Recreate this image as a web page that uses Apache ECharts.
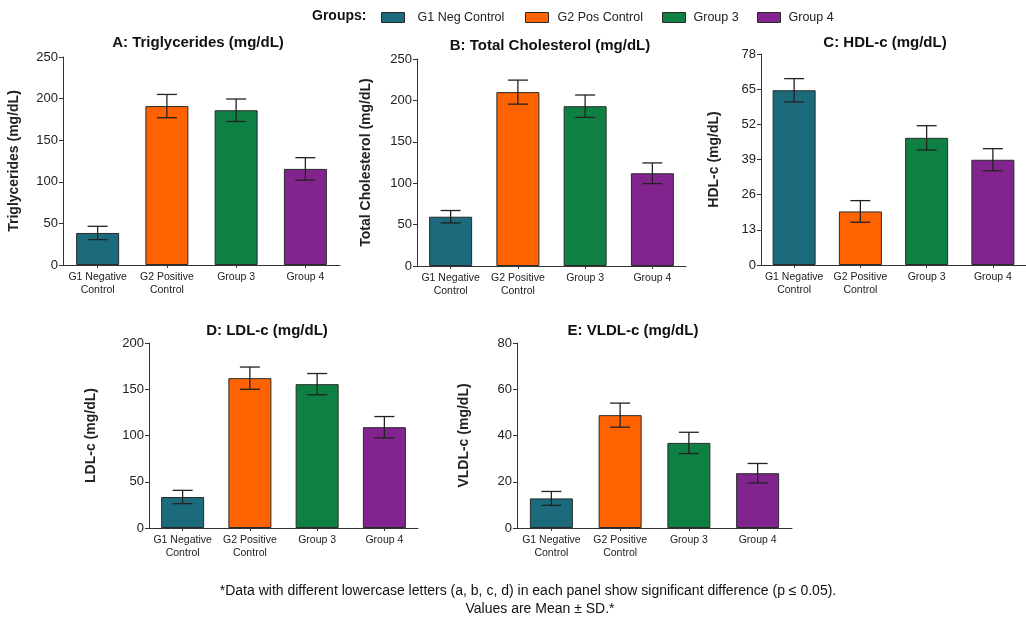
<!DOCTYPE html>
<html>
<head>
<meta charset="utf-8">
<script src="https://cdn.jsdelivr.net/npm/echarts@6/dist/echarts.min.js"></script>
<style>
html,body{margin:0;padding:0;background:#fff;}
#chart{width:1026px;height:620px;}
</style>
</head>
<body>
<div id="chart"></div>
<script>
// ---------- data ----------
const groups = ['G1 Neg Control', 'G2 Pos Control', 'Group 3', 'Group 4'];
const categories = ['G1 Negative\nControl', 'G2 Positive\nControl', 'Group 3', 'Group 4'];
const panelTitles = ['A: Triglycerides (mg/dL)', 'B: Total Cholesterol (mg/dL)', 'C: HDL-c (mg/dL)', 'D: LDL-c (mg/dL)', 'E: VLDL-c (mg/dL)'];
const yNames = ['Triglycerides (mg/dL)', 'Total Cholesterol (mg/dL)', 'HDL-c (mg/dL)', 'LDL-c (mg/dL)', 'VLDL-c (mg/dL)'];
const yMax = [250, 250, 78, 200, 80];
const yInterval = [50, 50, 13, 50, 20];

const trigMean = [38.5, 191, 186, 115.5];
const trigSD = [8, 14, 13.5, 13.5];
const tcMean = [59.5, 210, 193, 112];
const tcSD = [7.5, 14.5, 13.5, 12.5];
const hdlMean = [64.6, 19.8, 47, 38.9];
const hdlSD = [4.3, 4, 4.5, 4.1];
const ldlMean = [33.5, 162, 155.5, 109];
const ldlSD = [7.2, 12, 11.5, 11.5];
const vldlMean = [12.8, 48.8, 36.8, 23.7];
const vldlSD = [3, 5.2, 4.6, 4.2];

const means = [trigMean, tcMean, hdlMean, ldlMean, vldlMean];
const sds = [trigSD, tcSD, hdlSD, ldlSD, vldlSD];

const footnote1 = '*Data with different lowercase letters (a, b, c, d) in each panel show significant difference (p \u2264 0.05).';
const footnote2 = 'Values are Mean \u00b1 SD.*';

// ---------- styles / layout ----------
const colors = ['#1B6B7D', '#FF6200', '#0E8043', '#82248E'];
const FONT = 'Liberation Sans, Arial, sans-serif';
const grids = [
  {left: 63, top: 57, width: 277, height: 208},
  {left: 417, top: 59, width: 269, height: 207},
  {left: 761, top: 54, width: 272, height: 211},
  {left: 149, top: 343, width: 269, height: 185},
  {left: 517, top: 343, width: 275, height: 185}
];
const nameGaps = [42, 44, 40, 51, 46];
const titlePos = [[198, 43], [550, 46], [885, 43], [267, 331], [633, 331]];
const legendLeft = [381, 525, 662, 757];
const legendTextPad = [8, 4, 3, 3];

const chart = echarts.init(document.getElementById('chart'), null, {renderer: 'canvas'});

const xAxis = [], yAxis = [], series = [];
grids.forEach((g, p) => {
  xAxis.push({
    type: 'category', gridIndex: p, data: categories,
    axisLine: {lineStyle: {color: '#333', width: 1}},
    axisTick: {show: true, alignWithLabel: true, length: 3, lineStyle: {color: '#333'}},
    axisLabel: {color: '#222', fontSize: 10.5, fontFamily: FONT, lineHeight: 12.5, margin: 6, interval: 0}
  });
  yAxis.push({
    type: 'value', gridIndex: p, min: 0, max: yMax[p], interval: yInterval[p],
    name: yNames[p], nameLocation: 'middle', nameRotate: 90, nameGap: nameGaps[p],
    nameTextStyle: {fontSize: 14, fontWeight: 'bold', color: '#222', fontFamily: FONT},
    axisLine: {show: true, lineStyle: {color: '#333', width: 1}},
    axisTick: {show: true, length: 4, lineStyle: {color: '#333'}},
    splitLine: {show: false},
    axisLabel: {color: '#222', fontSize: 13, fontFamily: FONT, margin: 5}
  });
  groups.forEach((gn, gi) => {
    series.push({
      type: 'bar', name: gn, xAxisIndex: p, yAxisIndex: p, stack: 'p' + p,
      barWidth: 43,
      itemStyle: {color: colors[gi], borderColor: '#2a2a2a', borderWidth: 1},
      data: categories.map((c, ci) => ci === gi ? means[p][ci] : '-'),
      emphasis: {disabled: true}, silent: true
    });
  });
  series.push({
    type: 'custom', xAxisIndex: p, yAxisIndex: p, z: 10, silent: true,
    data: means[p].map((m, i) => [i, m, sds[p][i]]),
    renderItem: function (params, api) {
      const i = api.value(0), m = api.value(1), s = api.value(2);
      const top = api.coord([i, m + s]);
      const bot = api.coord([i, m - s]);
      const hw = 10;
      const st = {stroke: '#222', lineWidth: 1.3};
      return {type: 'group', children: [
        {type: 'line', shape: {x1: top[0], y1: top[1], x2: bot[0], y2: bot[1]}, style: st},
        {type: 'line', shape: {x1: top[0] - hw, y1: top[1], x2: top[0] + hw, y2: top[1]}, style: st},
        {type: 'line', shape: {x1: bot[0] - hw, y1: bot[1], x2: bot[0] + hw, y2: bot[1]}, style: st}
      ]};
    }
  });
});

const graphic = [];
panelTitles.forEach((t, p) => {
  graphic.push({type: 'text', x: titlePos[p][0], y: titlePos[p][1], silent: true,
    style: {text: t, fill: '#111', font: 'bold 15px ' + FONT, textAlign: 'center', textVerticalAlign: 'middle'}});
});
graphic.push({type: 'text', x: 312, y: 16, silent: true,
  style: {text: 'Groups:', fill: '#111', font: 'bold 14px ' + FONT, textAlign: 'left', textVerticalAlign: 'middle'}});
graphic.push({type: 'text', x: 528, y: 591, silent: true,
  style: {text: footnote1, fill: '#111', font: '14px ' + FONT, textAlign: 'center', textVerticalAlign: 'middle'}});
graphic.push({type: 'text', x: 540, y: 609, silent: true,
  style: {text: footnote2, fill: '#111', font: '14px ' + FONT, textAlign: 'center', textVerticalAlign: 'middle'}});

const legend = groups.map((gn, gi) => ({
  data: [gn], left: legendLeft[gi], top: 11, padding: 0, itemWidth: 23, itemHeight: 10,
  icon: 'rect', selectedMode: false,
  itemStyle: {borderColor: '#2a2a2a', borderWidth: 1},
  textStyle: {fontSize: 12.5, color: '#222', fontFamily: FONT, padding: [0, 0, 0, legendTextPad[gi]]}
}));

chart.setOption({
  animation: false,
  backgroundColor: '#fff',
  grid: grids.map(g => Object.assign({containLabel: false}, g)),
  xAxis: xAxis,
  yAxis: yAxis,
  legend: legend,
  graphic: graphic,
  series: series
});
</script>
</body>
</html>
